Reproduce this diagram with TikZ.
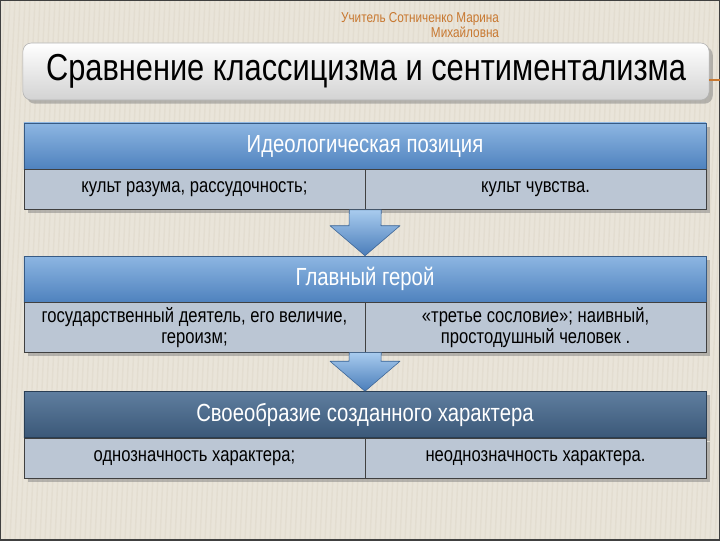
\documentclass[tikz,border=0pt]{standalone}
\usepackage{fontspec}
\setmainfont{Liberation Sans}
\newfontfamily\narrowfont[FakeStretch=0.82]{Liberation Sans}
\usetikzlibrary{positioning,calc,shadows}

\definecolor{bgbeige}{HTML}{E9E4D9}
\definecolor{stripec}{HTML}{D6CEBE}
\definecolor{authorc}{HTML}{C87830}
\definecolor{headtop}{HTML}{8DB6E2}
\definecolor{headbot}{HTML}{4F82BE}
\definecolor{darktop}{HTML}{5F7E9F}
\definecolor{darkbot}{HTML}{3B5878}
\definecolor{subfill}{HTML}{BBC6D4}
\definecolor{arrtop}{HTML}{A8CBEE}
\definecolor{arrbot}{HTML}{4A7DBA}

\begin{document}
\begin{tikzpicture}[x=0.025cm,y=-0.025cm,
	titlebox/.style={rectangle,rounded corners=6pt,draw=gray!60,top color=white,bottom color=gray!35,minimum width=17.15cm,minimum height=1.425cm,font=\narrowfont\fontsize{26.7}{30}\selectfont,drop shadow},
	headbox/.style={rectangle,draw=headbot!70!black,top color=headtop,bottom color=headbot,text=white,minimum width=17.05cm,minimum height=1.15cm,font=\narrowfont\fontsize{17.6}{20}\selectfont,drop shadow},
	darkhead/.style={headbox,top color=darktop,bottom color=darkbot,draw=darkbot!70!black},
	subbox/.style={rectangle,draw=gray!50!black,fill=subfill,minimum width=8.525cm,minimum height=1cm,align=center,font=\narrowfont\fontsize{14.4}{15}\selectfont,drop shadow,
		path picture={\draw[white,line width=1.5pt] (path picture bounding box.north west) -- (path picture bounding box.south west);}},
	bigarrow/.style={draw=arrbot!80!black,top color=arrtop,bottom color=arrbot,line join=round},
	author/.style={text=authorc,font=\narrowfont\fontsize{10.2}{10}\selectfont,align=right},
	]
	\useasboundingbox (0,0) rectangle (720,540);
	% background
	\fill[bgbeige] (0,0) rectangle (720,540);
	\foreach \x in {-40,-35,...,720}
		\draw[stripec,line width=1pt,opacity=.3] (\x,540) -- (\x+25,0);
	\draw[gray!50!black,line width=1pt] (0,0) rectangle (720,540);

	\node[author,anchor=north east] (auth) at (504,8) {Учитель Сотниченко Марина\\Михайловна};
	\node[titlebox] (title) at (366,71.5) {Сравнение классицизма и сентиментализма};
	\coordinate (oline) at (720,80);
	\draw[authorc,line width=1pt] (title.east |- oline) -- (oline);

	% section 1
	\node[headbox] (ideo) at (365,146) {Идеологическая позиция};
	\node[subbox,anchor=north west] (ideoL) at (ideo.south west) {культ разума, рассудочность;};
	\node[subbox,anchor=north east] (ideoR) at (ideo.south east) {культ чувства.};

	% section 2
	\node[headbox] (hero) at (365,279) {Главный герой};
	\node[subbox,anchor=north west,minimum height=1.1cm] (heroL) at (hero.south west) {государственный деятель, его величие,\\героизм;};
	\node[subbox,anchor=north east,minimum height=1.1cm] (heroR) at (hero.south east) {«третье сословие»; наивный,\\простодушный человек .};

	% section 3
	\node[darkhead] (char) at (365,414.5) {Своеобразие созданного характера};
	\node[subbox,anchor=north west] (charL) at (char.south west) {однозначность характера;};
	\node[subbox,anchor=north east] (charR) at (char.south east) {неоднозначность характера.};

	% arrows
	\path[bigarrow] ($(ideoL.south east)+(-16,0)$) -- ($(hero.north)+(-16,-30)$) -- ($(hero.north)+(-35,-30)$)
		-- (hero.north) -- ($(hero.north)+(35,-30)$) -- ($(hero.north)+(16,-30)$) -- ($(ideoL.south east)+(16,0)$) -- cycle;
	\path[bigarrow] ($(heroL.south east)+(-16,0)$) -- ($(char.north)+(-16,-30)$) -- ($(char.north)+(-35,-30)$)
		-- (char.north) -- ($(char.north)+(35,-30)$) -- ($(char.north)+(16,-30)$) -- ($(heroL.south east)+(16,0)$) -- cycle;
\end{tikzpicture}
\end{document}
